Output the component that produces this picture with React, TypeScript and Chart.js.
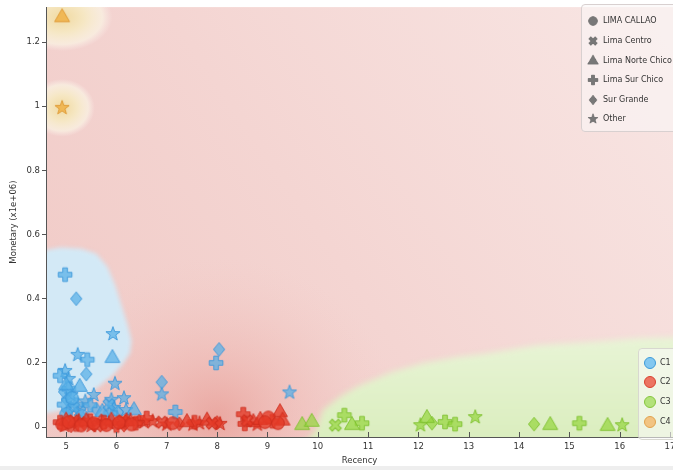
import React, { useEffect, useRef } from 'react';
import { Chart, registerables } from 'chart.js';
Chart.register(...registerables);

type Pt = [number, number];

// ---------- axis ticks ----------
const xTicks = [5, 6, 7, 8, 9, 10, 11, 12, 13, 14, 15, 16, 17];
const yTicks = [0, 0.2, 0.4, 0.6, 0.8, 1, 1.2];

// ---------- legend labels ----------
const regionNames = ['LIMA CALLAO', 'Lima Centro', 'Lima Norte Chico', 'Lima Sur Chico', 'Sur Grande', 'Other'];
const regionShapes = ['circle', 'x', 'triangle', 'plus', 'diamond', 'star'];
const clusterNames = ['C1', 'C2', 'C3', 'C4'];

// ---------- C1 points (Recency, Monetary x1e6) ----------
const c1LimaCallao: Pt[] = [[5.0, 0.04], [5.32, 0.035], [5.12, 0.09]];
const c1LimaCentro: Pt[] = [[5.28, 0.047], [5.15, 0.06], [5.85, 0.07]];
const c1NorteChico: Pt[] = [[5.92, 0.215], [5.0, 0.13], [5.27, 0.125], [5.72, 0.047], [6.35, 0.052]];
const c1SurChico: Pt[] = [[4.98, 0.475], [5.42, 0.21], [4.88, 0.16], [5.2, 0.07], [4.96, 0.07], [5.48, 0.068], [5.88, 0.043], [7.98, 0.2], [7.17, 0.047], [5.05, 0.12]];
const c1SurGrande: Pt[] = [[5.2, 0.4], [5.4, 0.165], [4.96, 0.11], [5.02, 0.085], [5.04, 0.05], [5.6, 0.055], [6.03, 0.046], [8.04, 0.242], [6.9, 0.14]];
const c1Other: Pt[] = [[5.93, 0.29], [5.23, 0.225], [5.97, 0.135], [4.98, 0.175], [5.05, 0.15], [5.1, 0.1], [5.55, 0.1], [5.38, 0.08], [5.9, 0.085], [6.15, 0.09], [5.95, 0.06], [6.19, 0.053], [6.9, 0.102], [9.44, 0.108]];

// ---------- C2 points ----------
const c2LimaCallao: Pt[] = [[4.92, 0.008], [5.05, 0.015], [5.3, 0.005], [5.55, 0.012], [5.8, 0.006], [6.05, 0.014], [6.3, 0.008], [7.12, 0.012], [9.02, 0.03], [9.21, 0.012], [8.95, 0.015]];
const c2LimaCentro: Pt[] = [[5.15, 0.02], [5.62, 0.004], [6.12, 0.02], [6.9, 0.015], [7.9, 0.012], [8.6, 0.02]];
const c2NorteChico: Pt[] = [[5.0, 0.02], [5.4, 0.018], [5.9, 0.02], [6.2, 0.018], [7.4, 0.015], [7.8, 0.02], [8.72, 0.015], [8.86, 0.022], [9.25, 0.046], [9.3, 0.02]];
const c2SurChico: Pt[] = [[4.88, 0.015], [5.2, 0.008], [5.48, 0.02], [5.75, 0.015], [6.0, 0.005], [6.38, 0.012], [6.6, 0.028], [7.55, 0.015], [8.52, 0.04], [8.55, 0.01], [9.1, 0.018]];
const c2SurGrande: Pt[] = [[5.1, 0.004], [5.35, 0.012], [5.7, 0.02], [6.15, 0.006], [6.45, 0.018], [7.25, 0.01], [8.0, 0.014]];
const c2Other: Pt[] = [[4.97, 0.004], [5.25, 0.02], [5.5, 0.004], [5.85, 0.012], [6.1, 0.01], [6.28, 0.022], [6.55, 0.015], [6.72, 0.018], [7.0, 0.008], [7.52, 0.008], [7.65, 0.012], [8.06, 0.01], [8.8, 0.008]];

// ---------- C3 points ----------
const c3LimaCallao: Pt[] = [];
const c3LimaCentro: Pt[] = [[10.35, 0.006]];
const c3NorteChico: Pt[] = [[9.69, 0.006], [9.88, 0.016], [10.68, 0.006], [12.17, 0.028], [14.62, 0.006], [15.76, 0.003]];
const c3SurChico: Pt[] = [[10.53, 0.037], [10.88, 0.012], [12.53, 0.016], [12.73, 0.009], [15.2, 0.012]];
const c3SurGrande: Pt[] = [[12.27, 0.012], [14.3, 0.009]];
const c3Other: Pt[] = [[12.04, 0.006], [13.13, 0.031], [16.05, 0.006]];

// ---------- C4 points ----------
const c4NorteChico: Pt[] = [[4.92, 1.277]];
const c4Other: Pt[] = [[4.92, 0.995]];

// ---------- decision regions (data coordinates) ----------
const blueRegionX = [4.5, 4.62, 4.9, 5.3, 5.6, 5.82, 5.98, 6.1, 6.22, 6.3, 6.27, 6.12, 5.92, 5.68, 5.45, 5.22, 4.95, 4.5];
const blueRegionY = [0.54, 0.553, 0.56, 0.556, 0.54, 0.5, 0.44, 0.38, 0.32, 0.27, 0.23, 0.195, 0.16, 0.13, 0.1, 0.075, 0.052, 0.04];
const greenRegionX = [9.65, 9.95, 10.1, 10.45, 10.8, 11.45, 12.1, 12.8, 13.25, 14.35, 15.7, 16.35, 17.3, 17.3, 9.5];
const greenRegionY = [-0.06, -0.015, 0.053, 0.095, 0.127, 0.17, 0.2, 0.219, 0.227, 0.255, 0.268, 0.277, 0.28, -0.06, -0.06];
const orangeBlobX = [4.92, 4.92];
const orangeBlobY = [1.277, 0.995];
const orangeBlobRx = [1.0, 0.65];
const orangeBlobRy = [0.105, 0.09];
const redCoreX = 8.0;
const redCoreY = 0.03;
const redCoreRx = 3.6;
const redCoreRy = 0.5;

// ---------- styles ----------
const clusterFill = ['rgba(86,174,230,0.72)', 'rgba(228,58,38,0.78)', 'rgba(150,214,62,0.72)', 'rgba(240,178,72,0.85)'];
const clusterStroke = ['rgba(60,152,218,0.9)', 'rgba(205,45,30,0.9)', 'rgba(125,192,45,0.9)', 'rgba(222,152,50,0.9)'];
const legendCircleFill = ['#83c8f0', '#ec7462', '#b3e27a', '#f2c482'];
const legendCircleStroke = ['#3d9ad8', '#d8402e', '#86c53e', '#e0a24e'];
const FONT = "'DejaVu Sans', Verdana, sans-serif";

function makeMarker(shape: string, fill: string, stroke: string): HTMLCanvasElement {
  const size = 20;
  const c = document.createElement('canvas');
  c.width = size;
  c.height = size;
  const g = c.getContext('2d')!;
  g.translate(size / 2, size / 2);
  g.beginPath();
  if (shape === 'circle') {
    g.arc(0, 0, 6.3, 0, Math.PI * 2);
  } else if (shape === 'triangle') {
    const r = 8.6;
    g.moveTo(0, -r);
    g.lineTo(r * 0.866, r * 0.5);
    g.lineTo(-r * 0.866, r * 0.5);
    g.closePath();
  } else if (shape === 'diamond') {
    g.moveTo(0, -6.8);
    g.lineTo(5.6, 0);
    g.lineTo(0, 6.8);
    g.lineTo(-5.6, 0);
    g.closePath();
  } else if (shape === 'plus' || shape === 'x') {
    const w = shape === 'plus' ? 2.3 : 2.0;
    const L = shape === 'plus' ? 6.8 : 6.4;
    if (shape === 'x') g.rotate(Math.PI / 4);
    g.moveTo(-w, -L); g.lineTo(w, -L); g.lineTo(w, -w); g.lineTo(L, -w); g.lineTo(L, w);
    g.lineTo(w, w); g.lineTo(w, L); g.lineTo(-w, L); g.lineTo(-w, w); g.lineTo(-L, w);
    g.lineTo(-L, -w); g.lineTo(-w, -w); g.closePath();
  } else if (shape === 'star') {
    const R = 7.4, r = 3.0;
    for (let i = 0; i < 10; i++) {
      const rad = i % 2 === 0 ? R : r;
      const a = -Math.PI / 2 + (i * Math.PI) / 5;
      const px = Math.cos(a) * rad, py = Math.sin(a) * rad;
      if (i === 0) g.moveTo(px, py); else g.lineTo(px, py);
    }
    g.closePath();
  }
  g.fillStyle = fill;
  g.fill();
  g.lineWidth = 1;
  g.strokeStyle = stroke;
  g.stroke();
  return c;
}

const regionsPlugin = {
  id: 'regions',
  beforeDraw(chart: any) {
    const { ctx, chartArea: a, scales } = chart;
    const xs = scales.x, ys = scales.y;
    const px = (v: number) => xs.getPixelForValue(v);
    const py = (v: number) => ys.getPixelForValue(v);
    ctx.save();
    ctx.beginPath();
    ctx.rect(a.left, a.top, a.right - a.left, a.bottom - a.top);
    ctx.clip();
    // base pink
    const base = ctx.createLinearGradient(a.left, a.bottom, a.right, a.top);
    base.addColorStop(0, '#f0c9c5');
    base.addColorStop(0.45, '#f4d5d2');
    base.addColorStop(1, '#f8e6e4');
    ctx.fillStyle = base;
    ctx.fillRect(a.left, a.top, a.right - a.left, a.bottom - a.top);
    // darker red core
    {
      const cx = px(redCoreX), cy = py(redCoreY);
      const rx = Math.abs(px(redCoreX + redCoreRx) - cx);
      const ry = Math.abs(py(redCoreY + redCoreRy) - cy);
      ctx.save();
      ctx.translate(cx, cy);
      ctx.scale(rx / ry, 1);
      const gr = ctx.createRadialGradient(0, 0, 0, 0, 0, ry);
      gr.addColorStop(0, 'rgba(226,128,118,0.5)');
      gr.addColorStop(0.35, 'rgba(232,150,142,0.3)');
      gr.addColorStop(1, 'rgba(240,195,190,0)');
      ctx.fillStyle = gr;
      ctx.beginPath();
      ctx.arc(0, 0, ry, 0, Math.PI * 2);
      ctx.fill();
      ctx.restore();
    }
    // blue region
    ctx.save();
    ctx.filter = 'blur(2px)';
    ctx.beginPath();
    blueRegionX.forEach((v, i) => {
      if (i === 0) ctx.moveTo(px(v), py(blueRegionY[i])); else ctx.lineTo(px(v), py(blueRegionY[i]));
    });
    ctx.closePath();
    ctx.fillStyle = '#d3e9f6';
    ctx.fill();
    ctx.restore();
    // green region
    ctx.save();
    ctx.filter = 'blur(3px)';
    ctx.beginPath();
    greenRegionX.forEach((v, i) => {
      if (i === 0) ctx.moveTo(px(v), py(greenRegionY[i])); else ctx.lineTo(px(v), py(greenRegionY[i]));
    });
    ctx.closePath();
    const gg = ctx.createLinearGradient(0, py(0.28), 0, a.bottom);
    gg.addColorStop(0, '#e8f4d6');
    gg.addColorStop(1, '#dbeebf');
    ctx.fillStyle = gg;
    ctx.fill();
    ctx.restore();
    // orange blobs
    orangeBlobX.forEach((v, i) => {
      const cx = px(v), cy = py(orangeBlobY[i]);
      const rx = Math.abs(px(v + orangeBlobRx[i]) - cx);
      const ry = Math.abs(py(orangeBlobY[i] + orangeBlobRy[i]) - cy);
      ctx.save();
      ctx.translate(cx, cy);
      ctx.scale(rx / ry, 1);
      const gr = ctx.createRadialGradient(0, 0, 0, 0, 0, ry);
      gr.addColorStop(0, 'rgba(240,218,158,0.95)');
      gr.addColorStop(0.45, 'rgba(246,233,195,0.92)');
      gr.addColorStop(0.8, 'rgba(250,245,228,0.7)');
      gr.addColorStop(1, 'rgba(250,240,236,0)');
      ctx.fillStyle = gr;
      ctx.beginPath();
      ctx.arc(0, 0, ry, 0, Math.PI * 2);
      ctx.fill();
      ctx.restore();
    });
    ctx.restore();
  },
  afterDraw(chart: any) {
    const { ctx, chartArea: a, scales } = chart;
    ctx.save();
    ctx.strokeStyle = '#555';
    ctx.lineWidth = 1;
    scales.x.ticks.forEach((t: any) => {
      const x = Math.round(scales.x.getPixelForValue(t.value)) + 0.5;
      ctx.beginPath();
      ctx.moveTo(x, a.bottom);
      ctx.lineTo(x, a.bottom - 5);
      ctx.stroke();
    });
    ctx.restore();
  },
};

export default function App() {
  const ref = useRef<HTMLCanvasElement>(null);

  const shapeMarkers = regionShapes.map((s) => makeMarker(s, '#787878', '#6a6a6a'));

  useEffect(() => {
    const groups: { c: number; s: number; data: Pt[] }[] = [
      { c: 3, s: 2, data: c4NorteChico },
      { c: 3, s: 5, data: c4Other },
      { c: 1, s: 0, data: c2LimaCallao },
      { c: 1, s: 1, data: c2LimaCentro },
      { c: 1, s: 2, data: c2NorteChico },
      { c: 1, s: 3, data: c2SurChico },
      { c: 1, s: 4, data: c2SurGrande },
      { c: 1, s: 5, data: c2Other },
      { c: 2, s: 0, data: c3LimaCallao },
      { c: 2, s: 1, data: c3LimaCentro },
      { c: 2, s: 2, data: c3NorteChico },
      { c: 2, s: 3, data: c3SurChico },
      { c: 2, s: 4, data: c3SurGrande },
      { c: 2, s: 5, data: c3Other },
      { c: 0, s: 0, data: c1LimaCallao },
      { c: 0, s: 1, data: c1LimaCentro },
      { c: 0, s: 2, data: c1NorteChico },
      { c: 0, s: 3, data: c1SurChico },
      { c: 0, s: 4, data: c1SurGrande },
      { c: 0, s: 5, data: c1Other },
    ];
    const datasets = groups.map((g) => ({
      label: clusterNames[g.c] + ' ' + regionNames[g.s],
      data: g.data.map(([x, y]) => ({ x, y })),
      pointStyle: makeMarker(regionShapes[g.s], clusterFill[g.c], clusterStroke[g.c]),
      pointRadius: 6,
      showLine: false,
    }));
    const chart = new Chart(ref.current!, {
      type: 'scatter',
      data: { datasets },
      plugins: [regionsPlugin],
      options: {
        animation: false,
        responsive: false,
        devicePixelRatio: 1,
        layout: { padding: { top: 4, right: 27, left: 0, bottom: 0 } },
        plugins: { legend: { display: false }, tooltip: { enabled: false } },
        scales: {
          x: {
            type: 'linear',
            min: 4.6,
            max: 17.06,
            afterFit: (s: any) => { s.height = 33; },
            afterBuildTicks: (s: any) => { s.ticks = xTicks.map((v) => ({ value: v })); },
            grid: { display: false, drawTicks: false },
            border: { display: true, color: '#555', width: 1 },
            ticks: { color: '#333', font: { family: FONT, size: 8.5 }, padding: 5, autoSkip: false, maxRotation: 0, callback: (v: any) => String(v) },
            title: { display: true, text: 'Recency', color: '#333', font: { family: FONT, size: 8.5 }, padding: { top: 0, bottom: 4 } },
          },
          y: {
            type: 'linear',
            min: -0.031,
            max: 1.309,
            afterFit: (s: any) => { s.width = 46; },
            afterBuildTicks: (s: any) => { s.ticks = yTicks.map((v) => ({ value: v })); },
            grid: { display: true, drawOnChartArea: false, drawTicks: true, tickLength: 4, color: '#555' },
            border: { display: true, color: '#555', width: 1 },
            ticks: { color: '#333', font: { family: FONT, size: 8.5 }, padding: 2, autoSkip: false, callback: (v: any) => String(Math.round(v * 10) / 10) },
            title: { display: true, text: 'Monetary (x1e+06)', color: '#333', font: { family: FONT, size: 8.5 }, padding: { top: 9, bottom: 0 } },
          },
        },
      },
    } as any);
    return () => chart.destroy();
  }, []);

  const shapeRowY = [16, 36, 56, 75, 95, 114];
  const clusterRowY = [14, 33, 53, 73];

  return (
    <div style={{ position: 'absolute', left: 0, top: 0, width: 673, height: 470, overflow: 'hidden', background: '#fff', fontFamily: FONT }}>
      <canvas ref={ref} width={700} height={470} style={{ position: 'absolute', left: 0, top: 0, width: 700, height: 470 }} />
      <div style={{ position: 'absolute', left: 581, top: 4, width: 110, height: 128, background: 'rgba(250,246,246,0.6)', border: '1px solid #d8d0d0', borderRadius: 4, boxSizing: 'border-box' }}>
        {regionNames.map((n, i) => (
          <div key={n} style={{ position: 'absolute', left: 0, top: shapeRowY[i] - 8, height: 16, width: 110 }}>
            <img src={shapeMarkers[i].toDataURL()} style={{ position: 'absolute', left: 11 - 7, top: 1, width: 14, height: 14 }} />
            <span style={{ position: 'absolute', left: 21, top: 3, fontSize: 8, color: '#333', whiteSpace: 'nowrap', lineHeight: '10px' }}>{n}</span>
          </div>
        ))}
      </div>
      <div style={{ position: 'absolute', left: 638, top: 348, width: 60, height: 92, background: 'rgba(250,250,248,0.6)', border: '1px solid #d8d8d0', borderRadius: 4, boxSizing: 'border-box' }}>
        {clusterNames.map((n, i) => (
          <div key={n} style={{ position: 'absolute', left: 0, top: clusterRowY[i] - 8, height: 16, width: 60 }}>
            <div style={{ position: 'absolute', left: 11 - 6, top: 2, width: 10, height: 10, borderRadius: '50%', background: legendCircleFill[i], border: '1px solid ' + legendCircleStroke[i] }} />
            <span style={{ position: 'absolute', left: 21, top: 3, fontSize: 8, color: '#333', lineHeight: '10px' }}>{n}</span>
          </div>
        ))}
      </div>
      <div style={{ position: 'absolute', left: 0, top: 466, width: 673, height: 4, background: '#eeeeee' }} />
    </div>
  );
}
